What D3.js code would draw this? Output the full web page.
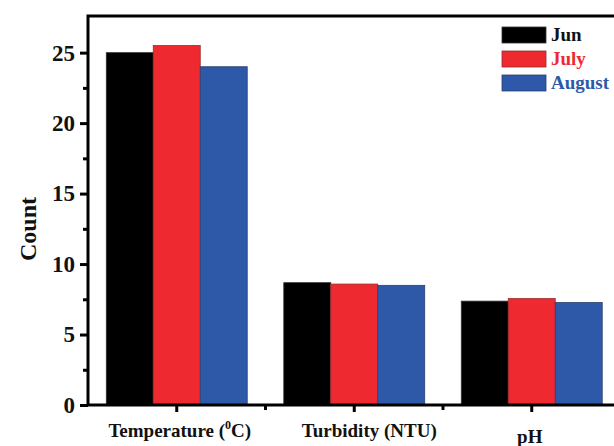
<!DOCTYPE html>
<html><head><meta charset="utf-8">
<script src="https://cdn.jsdelivr.net/npm/d3@7"></script>
<style>body{margin:0;background:#fff}svg{display:block}text{font-family:"Liberation Serif","Times New Roman",serif;font-weight:bold}</style>
</head><body><svg id="c" width="614" height="446"></svg>
<script>
const categories = ["Temperature", "Turbidity (NTU)", "pH"];
const series = ["Jun", "July", "August"];
const jun = [25.0, 8.68, 7.37];
const july = [25.5, 8.58, 7.55];
const august = [24.0, 8.49, 7.27];
const yTicks = [0, 5, 10, 15, 20, 25];
const yMinor = [2.5, 7.5, 12.5, 17.5, 22.5];
const colors = ["#000000", "#EE2A30", "#2E58A8"];
const strokes = ["#333333", "#9a2a2a", "#2a3f70"];

const svg = d3.select("#c");
const L = 88, R = 620.5, T = 16, B = 405;
const x0 = d3.scaleBand().domain(categories).range([L, R]).padding(0);
const step = x0.bandwidth();
const x1 = d3.scaleBand().domain(series).range([step * 0.103, step * 0.897]).padding(0);
const y = d3.scaleLinear().domain([0, 27.6]).range([B, T]);
const vals = [jun, july, august];

// bars
categories.forEach((c, i) => {
  series.forEach((s, j) => {
    svg.append("rect")
      .attr("x", x0(c) + x1(s))
      .attr("y", y(vals[j][i]))
      .attr("width", x1.bandwidth())
      .attr("height", y(0) - y(vals[j][i]))
      .attr("fill", colors[j])
      .attr("stroke", strokes[j]).attr("stroke-width", 0.8);
  });
});

// y axis
const ya = svg.append("g").attr("transform", `translate(${L},0)`)
  .call(d3.axisLeft(y).tickValues(yTicks).tickSize(8).tickPadding(5).tickFormat(d3.format("d")));
ya.select(".domain").remove();
ya.selectAll(".tick line").attr("stroke", "#000").attr("stroke-width", 3);
ya.selectAll(".tick text").attr("font-size", 23).attr("fill", "#111");
const ym = svg.append("g").attr("transform", `translate(${L},0)`)
  .call(d3.axisLeft(y).tickValues(yMinor).tickSize(5).tickFormat(""));
ym.select(".domain").remove();
ym.selectAll(".tick line").attr("stroke", "#000").attr("stroke-width", 3);

// x axis ticks
const xa = svg.append("g").attr("transform", `translate(0,${B})`)
  .call(d3.axisBottom(x0).tickSize(7).tickFormat(""));
xa.select(".domain").remove();
xa.selectAll(".tick line").attr("stroke", "#000").attr("stroke-width", 3);
const bounds = categories.slice(1).map(c => x0(c));
svg.selectAll(".xminor").data(bounds).enter().append("line")
  .attr("x1", d => d).attr("x2", d => d).attr("y1", B).attr("y2", B + 5)
  .attr("stroke", "#000").attr("stroke-width", 3);

// frame
svg.append("rect").attr("x", L).attr("y", T).attr("width", R - L).attr("height", B - T)
  .attr("fill", "none").attr("stroke", "#000").attr("stroke-width", 3);

// x labels
const lab = svg.append("g");
const t0 = lab.append("text").attr("x", x0(categories[0]) + step / 2 + 3).attr("y", 437)
  .attr("text-anchor", "middle").attr("font-size", 19).attr("fill", "#111");
t0.append("tspan").text("Temperature (");
t0.append("tspan").text("0").attr("font-size", 12).attr("dy", -8);
t0.append("tspan").text("C)").attr("dy", 8);
lab.append("text").attr("x", x0(categories[1]) + step / 2 + 15).attr("y", 437)
  .attr("text-anchor", "middle").attr("font-size", 19).attr("fill", "#111").text(categories[1]);
lab.append("text").attr("x", x0(categories[2]) + step / 2 - 2).attr("y", 443)
  .attr("text-anchor", "middle").attr("font-size", 19).attr("fill", "#111").text(categories[2]);

// y label
svg.append("text").attr("transform", "translate(36,229) rotate(-90)")
  .attr("text-anchor", "middle").attr("font-size", 24).attr("fill", "#111").text("Count");

// legend
const lg = svg.append("g");
series.forEach((s, j) => {
  const cy = 35 + j * 24;
  lg.append("rect").attr("x", 502).attr("y", cy - 8).attr("width", 44).attr("height", 16)
    .attr("fill", colors[j]).attr("stroke", strokes[j]).attr("stroke-width", 0.8);
  lg.append("text").attr("x", 551).attr("y", cy + 6).attr("font-size", 19)
    .attr("fill", colors[j] === "#000000" ? "#111" : colors[j]).text(s);
});
</script></body></html>
